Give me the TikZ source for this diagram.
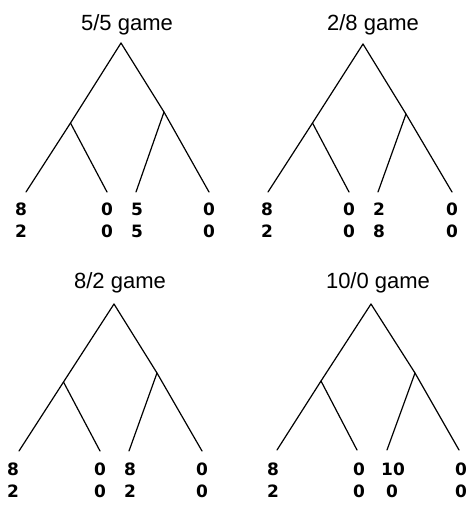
\documentclass[tikz,border=0pt]{standalone}
\usepackage{fontspec}
\setmainfont{Liberation Sans}
\newfontfamily\payfont{DejaVu Sans}
\newcommand{\pay}[1]{#1}
\begin{document}
\begin{tikzpicture}[x=1pt,y=-1pt,
  branch/.style={line width=1.2pt,line cap=round},
  gtitle/.style={inner sep=0pt,font=\fontsize{22}{24}\selectfont},
  payoff/.style={inner sep=0pt,font=\payfont\fontsize{17}{19}\selectfont\bfseries}]
\useasboundingbox (0,0) rectangle (469,512);
% ---------- panel 1: 5/5 game
\node[gtitle] (t1) at (127,25) {5/5 game};
\coordinate (r1) at (121,43);
\coordinate (a1) at (70.5,123);
\coordinate (b1) at (164,112);
\coordinate (l1a) at (26,192);
\coordinate (l1b) at (107,192);
\coordinate (l1c) at (136,192);
\coordinate (l1d) at (209,192);
\draw[branch] (r1) -- (a1) -- (l1a);
\draw[branch] (a1) -- (l1b);
\draw[branch] (r1) -- (b1) -- (l1d);
\draw[branch] (b1) -- (l1c);
\node[payoff] (p1a) at (21,209) {\pay{8}};  \node[payoff] (q1a) at (21,231) {\pay{2}};
\node[payoff] (p1b) at (107,209) {\pay{0}}; \node[payoff] (q1b) at (107,231) {\pay{0}};
\node[payoff] (p1c) at (137,209) {\pay{5}}; \node[payoff] (q1c) at (137,231) {\pay{5}};
\node[payoff] (p1d) at (209,209) {\pay{0}}; \node[payoff] (q1d) at (209,231) {\pay{0}};
% ---------- panel 2: 2/8 game
\node[gtitle] (t2) at (373,25) {2/8 game};
\coordinate (r2) at (363,44);
\coordinate (a2) at (312.5,123);
\coordinate (b2) at (406,114);
\coordinate (l2a) at (268,192);
\coordinate (l2b) at (349,192);
\coordinate (l2c) at (378,192);
\coordinate (l2d) at (452,192);
\draw[branch] (r2) -- (a2) -- (l2a);
\draw[branch] (a2) -- (l2b);
\draw[branch] (r2) -- (b2) -- (l2d);
\draw[branch] (b2) -- (l2c);
\node[payoff] (p2a) at (267,209) {\pay{8}}; \node[payoff] (q2a) at (267,231) {\pay{2}};
\node[payoff] (p2b) at (349,209) {\pay{0}}; \node[payoff] (q2b) at (349,231) {\pay{0}};
\node[payoff] (p2c) at (379,209) {\pay{2}}; \node[payoff] (q2c) at (379,231) {\pay{8}};
\node[payoff] (p2d) at (452,209) {\pay{0}}; \node[payoff] (q2d) at (452,231) {\pay{0}};
% ---------- panel 3: 8/2 game
\node[gtitle] (t3) at (120,283) {8/2 game};
\coordinate (r3) at (114,304);
\coordinate (a3) at (63.5,382);
\coordinate (b3) at (157,373);
\coordinate (l3a) at (19,451);
\coordinate (l3b) at (100,451);
\coordinate (l3c) at (129,451);
\coordinate (l3d) at (202,451);
\draw[branch] (r3) -- (a3) -- (l3a);
\draw[branch] (a3) -- (l3b);
\draw[branch] (r3) -- (b3) -- (l3d);
\draw[branch] (b3) -- (l3c);
\node[payoff] (p3a) at (13,469) {\pay{8}};  \node[payoff] (q3a) at (13,491) {\pay{2}};
\node[payoff] (p3b) at (100,469) {\pay{0}}; \node[payoff] (q3b) at (100,491) {\pay{0}};
\node[payoff] (p3c) at (130,469) {\pay{8}}; \node[payoff] (q3c) at (130,491) {\pay{2}};
\node[payoff] (p3d) at (202,469) {\pay{0}}; \node[payoff] (q3d) at (202,491) {\pay{0}};
% ---------- panel 4: 10/0 game
\node[gtitle] (t4) at (378,283) {10/0 game};
\coordinate (r4) at (371,304);
\coordinate (a4) at (321,381);
\coordinate (b4) at (415,373);
\coordinate (l4a) at (277,450);
\coordinate (l4b) at (357,450);
\coordinate (l4c) at (387,450);
\coordinate (l4d) at (459,450);
\draw[branch] (r4) -- (a4) -- (l4a);
\draw[branch] (a4) -- (l4b);
\draw[branch] (r4) -- (b4) -- (l4d);
\draw[branch] (b4) -- (l4c);
\node[payoff] (p4a) at (273,469) {\pay{8}};  \node[payoff] (q4a) at (273,491) {\pay{2}};
\node[payoff] (p4b) at (359,469) {\pay{0}};  \node[payoff] (q4b) at (359,491) {\pay{0}};
\node[payoff] (p4c) at (393,469) {\pay{10}}; \node[payoff] (q4c) at (392,491) {\pay{0}};
\node[payoff] (p4d) at (461,469) {\pay{0}};  \node[payoff] (q4d) at (461,491) {\pay{0}};
\end{tikzpicture}
\end{document}
